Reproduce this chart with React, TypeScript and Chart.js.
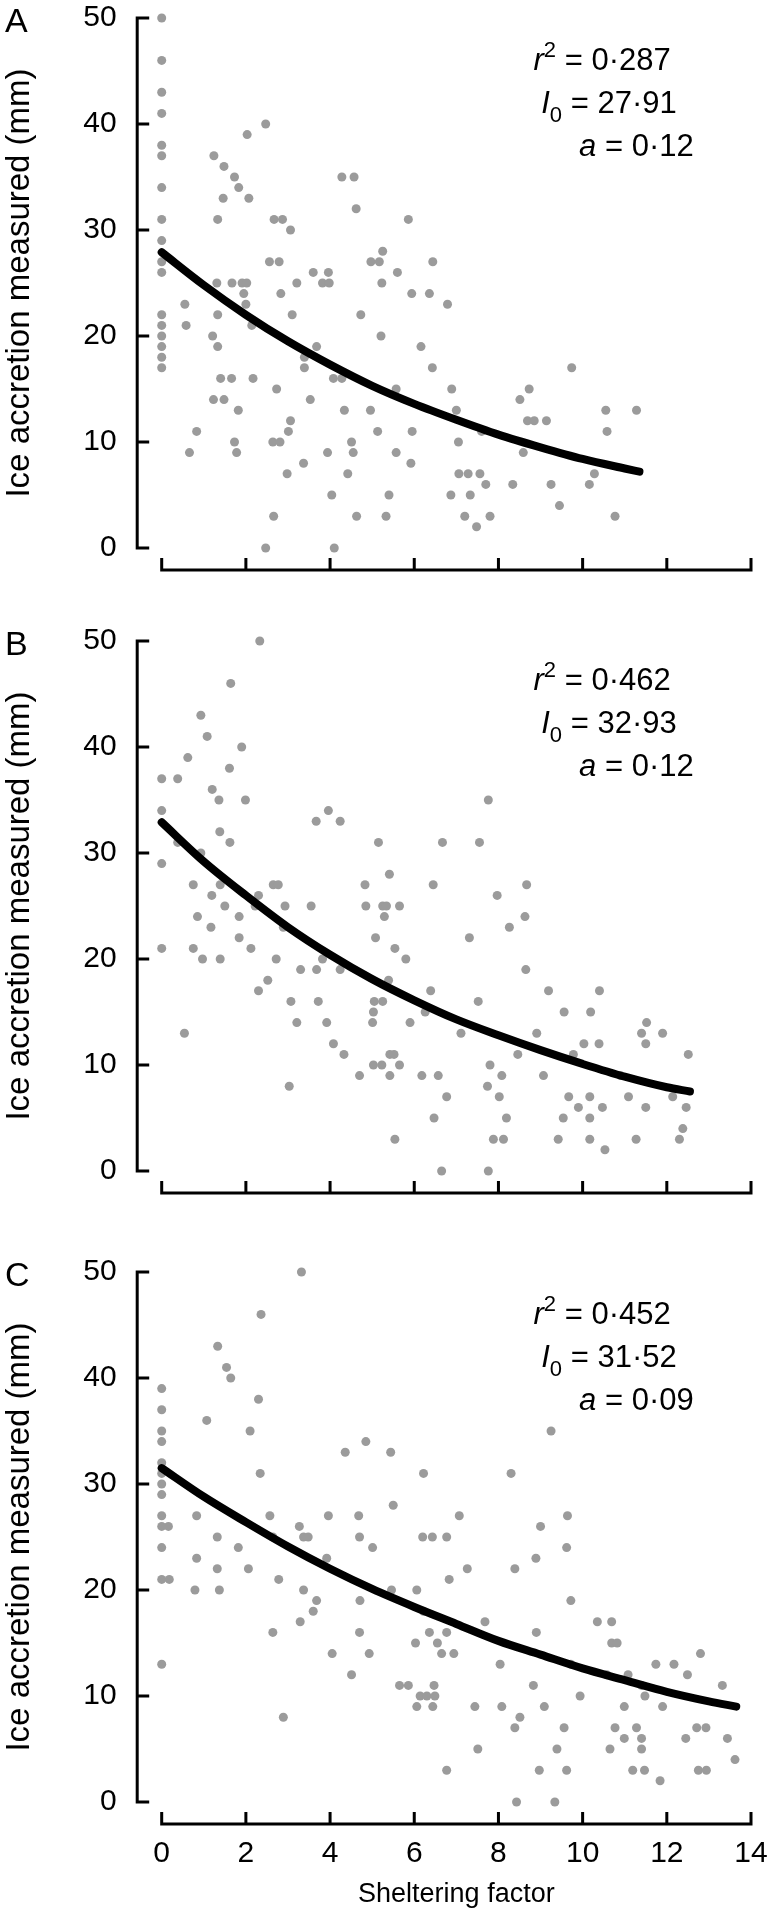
import React, { useEffect, useRef } from 'react';
import { Chart, registerables } from 'chart.js';

Chart.register(...registerables);

const FONT = "'Liberation Sans', Arial, Helvetica, sans-serif";

const xTicks = [0, 2, 4, 6, 8, 10, 12, 14];
const yTicks = [0, 10, 20, 30, 40, 50];
const xTitle = 'Sheltering factor';
const yTitle = 'Ice accretion measured (mm)';

// Panel A observations
const aX = [0, 0, 0, 0, 0, 0, 0, 0, 0, 0, 0, 0, 0, 0, 0, 0, 0,
  0.55, 0.58, 0.66, 0.83,
  1.24, 1.48, 1.73, 1.83, 1.46, 2.07, 1.33, 2.03, 2.47,
  1.31, 1.67, 1.91, 2.02, 1.95, 2.0, 1.33, 2.14, 1.21, 1.33,
  1.4, 1.66, 2.17, 1.23, 1.48, 1.82, 1.73, 1.78,
  2.67, 2.87, 3.06, 2.56, 2.79, 3.21, 2.83, 3.1, 2.73, 3.06, 3.01, 2.64, 2.81, 2.98, 2.66, 2.47,
  3.37, 3.6, 3.82, 3.98, 3.96, 3.68, 3.39, 3.39, 3.53, 3.94, 4.04, 4.1,
  4.08, 4.28, 4.34, 4.28, 4.57, 4.62, 4.73, 4.51, 4.55, 4.42, 4.63,
  4.97, 5.17, 5.25, 5.23, 5.21, 4.96, 5.13, 5.4, 5.33, 5.6, 5.57, 5.57,
  5.86, 6.44, 5.94, 6.36, 6.79, 6.16, 6.43, 6.89, 7.0, 5.95, 7.05, 7.6, 5.92,
  7.06, 7.28, 7.56, 7.7, 6.87, 7.33, 7.2, 7.8, 7.48, 8.34, 8.51, 8.73, 8.69, 8.85, 9.14,
  8.59, 9.25, 9.45, 9.74, 10.16, 10.28, 10.55, 10.58, 10.77, 11.28];
const aY = [50, 46, 43, 41, 38, 37, 34, 31, 29, 27, 26, 22, 21, 20, 19, 18, 17,
  23, 21, 9, 11,
  37, 36, 35, 34, 33, 33, 31, 39, 40,
  25, 25, 25, 25, 24, 23, 22, 21, 20, 19,
  16, 16, 16, 14, 14, 13, 10, 9,
  31, 31, 30, 27, 27, 25, 24, 22, 15, 12, 11, 10, 10, 7, 3, 0,
  8, 26, 25, 25, 26, 19, 18, 17, 14, 9, 5, 0,
  16, 16, 13, 35, 35, 32, 22, 10, 9, 7, 3,
  27, 27, 28, 25, 20, 13, 11, 5, 3, 26, 9, 15,
  31, 27, 24, 24, 23, 19, 17, 15, 13, 11, 10, 11, 8,
  7, 7, 7, 6, 5, 5, 3, 3, 2, 6, 14, 15, 12, 12, 12,
  9, 6, 4, 17, 6, 7, 13, 11, 3, 13];

// Panel B observations
const bX = [0, 0, 0, 0,
  0.38, 0.38, 0.54, 0.62, 0.93, 1.08, 1.2, 1.36, 1.38, 1.62, 1.64, 1.61, 1.9, 1.99, 2.33,
  0.93, 0.75, 1.19, 1.39, 1.5, 0.85, 1.17, 0.75, 0.97, 1.39, 1.84, 1.84, 2.12, 2.3, 2.22,
  2.65, 2.77, 2.93, 2.89, 2.72, 2.3, 2.52, 3.07, 3.21, 3.03, 3.3, 3.55, 3.67, 3.96, 4.24,
  3.68, 3.82, 3.72, 3.92, 4.08, 4.33, 4.24, 4.7, 4.83, 4.85, 5.15, 5.25, 5.34, 5.29, 5.08,
  5.41, 5.54, 5.05, 5.25, 5.03, 5.01, 5.03, 5.23, 5.42, 5.52, 5.42, 5.54, 5.65, 5.65, 5.39,
  6.67, 7.55, 7.76, 6.45, 8.67, 7.97, 8.26, 8.63, 7.31, 5.8, 8.65, 6.39, 9.19, 10.4, 7.52,
  6.26, 9.56, 10.19, 5.9, 11.52, 7.11, 8.91, 11.4, 11.9, 8.46, 9.78, 10.03, 10.39, 11.5,
  12.51, 7.8, 6.18, 6.57, 8.08, 9.07, 10.9, 7.74, 6.77, 8.02, 9.67, 10.17, 11.09, 12.14,
  9.9, 10.47, 11.5, 12.46, 6.47, 8.19, 9.54, 10.17, 12.38, 7.88, 8.12, 9.42, 10.17, 11.27,
  12.3, 10.53, 6.65, 7.76];
const bY = [37, 34, 29, 21,
  37, 31, 13, 39, 43, 41, 36, 35, 32, 31, 46, 38, 40, 35, 50,
  30, 27, 26, 27, 25, 24, 23, 21, 20, 20, 24, 22, 21, 26, 25,
  27, 27, 25, 23, 20, 17, 18, 16, 14, 8, 19, 25, 33, 34, 33,
  19, 20, 16, 14, 12, 11, 19, 9, 27, 25, 31, 25, 25, 24, 22,
  28, 21, 16, 16, 15, 14, 10, 10, 11, 11, 9, 3, 25, 10, 18,
  31, 31, 35, 27, 27, 26, 23, 24, 22, 20, 19, 17, 17, 17, 16,
  15, 15, 15, 14, 14, 13, 13, 13, 13, 11, 11, 12, 12, 12,
  11, 10, 9, 9, 9, 9, 9, 8, 7, 7, 7, 7, 7, 7,
  6, 6, 6, 6, 5, 5, 5, 5, 4, 3, 3, 3, 3, 3,
  3, 2, 0, 0];

// Panel C observations
const cX = [0, 0, 0, 0, 0, 0, 0, 0, 0, 0, 0, 0, 0,
  0.16, 0.18, 0.83, 0.83, 0.79, 1.07, 1.33, 1.54, 1.64, 1.32, 1.32, 1.37, 1.82, 2.06, 2.1,
  2.36, 2.3, 2.34, 2.57, 2.64, 2.78, 2.64, 2.89, 3.32, 3.27, 3.37, 3.48, 3.37, 3.68, 3.6,
  3.29, 3.96, 3.92, 4.05, 4.36, 4.85, 4.68, 4.7, 5.01, 4.71, 4.7, 4.93, 4.51, 5.44, 5.5,
  5.46, 5.65,
  6.22, 8.3, 9.25, 7.07, 9.64, 9.0, 6.2, 6.43, 6.77, 9.62, 8.89, 7.26, 8.39, 6.83, 6.06,
  9.72, 6.22, 7.68, 10.35, 10.69, 6.36, 6.77, 8.9, 6.03, 6.55, 10.69, 10.82, 6.65, 6.94,
  12.8, 8.04, 9.72, 11.74, 12.17, 10.57, 11.08, 12.49, 5.86, 6.47, 8.83, 11.4, 13.32,
  6.14, 6.3, 6.49, 9.94, 11.48, 6.06, 6.44, 7.44, 8.08, 9.09, 10.99, 11.9, 8.51, 8.39,
  9.56, 10.77, 11.28, 12.71, 12.93, 10.99, 11.4, 12.45, 13.44, 7.51, 9.39, 10.65, 11.4,
  13.62, 6.77, 8.97, 9.62, 11.19, 11.47, 12.75, 12.94, 11.84, 8.43, 9.34];
const cY = [39, 37, 35, 34, 32, 31, 30, 29, 27, 26, 24, 21, 13,
  26, 21, 27, 23, 20, 36, 43, 41, 40, 25, 22, 20, 24, 22, 35,
  46, 38, 31, 27, 25, 21, 16, 8, 50, 26, 25, 25, 20, 19, 18,
  17, 27, 23, 14, 33, 34, 27, 25, 24, 19, 16, 14, 12, 33, 28,
  20, 11,
  31, 31, 35, 27, 27, 26, 25, 25, 25, 24, 23, 22, 22, 21, 20,
  19, 18, 17, 17, 17, 16, 16, 16, 15, 15, 15, 15, 14, 14,
  14, 13, 13, 13, 13, 12, 12, 12, 11, 11, 11, 11, 11,
  10, 10, 10, 10, 10, 9, 9, 9, 9, 9, 9, 9, 8, 7,
  7, 7, 7, 7, 7, 6, 6, 6, 6, 5, 5, 5, 5,
  4, 3, 3, 3, 3, 3, 3, 3, 2, 0, 0];

// Fitted curves
const aCurveX = [0, 1, 2, 3, 4, 5, 6, 7, 8, 9, 10, 11, 11.35];
const aCurveY = [27.9, 24.8, 22.0, 19.5, 17.3, 15.3, 13.6, 12.1, 10.7, 9.5, 8.4, 7.5, 7.2];
const bCurveX = [0, 1, 2, 3, 4, 5, 6, 7, 8, 9, 10, 11, 12, 12.55];
const bCurveY = [32.9, 29.2, 26.0, 23.0, 20.4, 18.1, 16.1, 14.3, 12.8, 11.4, 10.1, 8.9, 7.9, 7.5];
const cCurveX = [0, 1, 2, 3, 4, 5, 6, 7, 8, 9, 10, 11, 12, 13, 13.65];
const cCurveY = [31.5, 28.8, 26.4, 24.1, 22.0, 20.1, 18.4, 16.8, 15.2, 13.9, 12.6, 11.5, 10.4, 9.5, 9.0];

const panelLetters = ['A', 'B', 'C'];
const r2Values = ['0·287', '0·462', '0·452'];
const i0Values = ['27·91', '32·93', '31·52'];
const aValues = ['0·12', '0·12', '0·09'];

type Panel = {
  letter: string; xs: number[]; ys: number[]; cx: number[]; cy: number[];
  r2: string; i0: string; a: string; last: boolean; top: number; height: number; noteShift: number;
};

const panels: Panel[] = [
  { letter: panelLetters[0], xs: aX, ys: aY, cx: aCurveX, cy: aCurveY, r2: r2Values[0], i0: i0Values[0], a: aValues[0], last: false, top: 0, height: 627, noteShift: 0 },
  { letter: panelLetters[1], xs: bX, ys: bY, cx: bCurveX, cy: bCurveY, r2: r2Values[1], i0: i0Values[1], a: aValues[1], last: false, top: 623, height: 631, noteShift: -3 },
  { letter: panelLetters[2], xs: cX, ys: cY, cx: cCurveX, cy: cCurveY, r2: r2Values[2], i0: i0Values[2], a: aValues[2], last: true, top: 1254, height: 666, noteShift: 0 },
];

type Part = { t: string; italic?: boolean; sup?: boolean; sub?: boolean };

function drawRich(ctx: CanvasRenderingContext2D, right: number, baseline: number, parts: Part[], size: number) {
  const fontFor = (p: Part) => {
    const s = p.sup || p.sub ? Math.round(size * 0.72) : size;
    return `${p.italic ? 'italic ' : ''}${s}px ${FONT}`;
  };
  let total = 0;
  parts.forEach((p) => { ctx.font = fontFor(p); total += ctx.measureText(p.t).width; });
  let x = right - total;
  ctx.textAlign = 'left';
  ctx.textBaseline = 'alphabetic';
  parts.forEach((p) => {
    ctx.font = fontFor(p);
    let y = baseline;
    if (p.sup) y -= size * 0.42;
    if (p.sub) y += size * 0.3;
    ctx.fillText(p.t, x, y);
    x += ctx.measureText(p.t).width;
  });
}

function makeDecor(p: Panel) {
  return {
    id: 'decor' + p.letter,
    afterDraw(chart: any) {
      const { ctx, scales: { x, y }, chartArea } = chart;
      const yAxisX = x.getPixelForValue(0) - 24.5;
      const xAxisY = y.getPixelForValue(0) + 22;
      ctx.save();
      ctx.strokeStyle = '#000';
      ctx.lineWidth = 3;
      ctx.lineCap = 'butt';
      ctx.beginPath();
      ctx.moveTo(yAxisX, y.getPixelForValue(50) - 1.5);
      ctx.lineTo(yAxisX, y.getPixelForValue(0) + 1.5);
      yTicks.forEach((v) => {
        const py = y.getPixelForValue(v);
        ctx.moveTo(yAxisX, py);
        ctx.lineTo(yAxisX + 12, py);
      });
      ctx.moveTo(x.getPixelForValue(0) - 1.5, xAxisY);
      ctx.lineTo(x.getPixelForValue(14) + 1.5, xAxisY);
      xTicks.forEach((v) => {
        const px = x.getPixelForValue(v);
        ctx.moveTo(px, xAxisY);
        ctx.lineTo(px, xAxisY - 12);
      });
      ctx.stroke();

      ctx.fillStyle = '#000';
      ctx.font = `34px ${FONT}`;
      ctx.textAlign = 'left';
      ctx.textBaseline = 'middle';
      ctx.fillText(p.letter, 5, chartArea.top + 5);

      const size = 31;
      const left = chartArea.left;
      const t = chartArea.top + p.noteShift;
      drawRich(ctx, left + 509, t + 52, [{ t: 'r', italic: true }, { t: '2', sup: true }, { t: ' = ' + p.r2 }], size);
      drawRich(ctx, left + 515, t + 95, [{ t: 'I', italic: true }, { t: '0', sub: true }, { t: ' = ' + p.i0 }], size);
      drawRich(ctx, left + 532, t + 138, [{ t: 'a', italic: true }, { t: ' = ' + p.a }], size);
      ctx.restore();
    },
  };
}

function PanelChart({ p }: { p: Panel }) {
  const ref = useRef<HTMLCanvasElement | null>(null);
  useEffect(() => {
    if (!ref.current) return;
    const xScaleHeight = p.height - 16.7 - 531.3;
    const chart = new Chart(ref.current, {
      type: 'scatter',
      data: {
        datasets: [
          {
            type: 'line',
            data: p.cx.map((x, i) => ({ x, y: p.cy[i] })),
            borderColor: '#000',
            borderWidth: 8,
            pointRadius: 0,
            cubicInterpolationMode: 'monotone',
            borderCapStyle: 'round',
            fill: false,
            clip: false,
            order: 0,
          } as any,
          {
            type: 'scatter',
            data: p.xs.map((x, i) => ({ x, y: p.ys[i] })),
            backgroundColor: '#9b9b9b',
            borderWidth: 0,
            pointRadius: 4.5,
            clip: false,
            order: 1,
          } as any,
        ],
      },
      options: {
        animation: false,
        responsive: false,
        maintainAspectRatio: false,
        events: [],
        layout: { padding: { top: 16.7, left: 0, right: 19, bottom: 0 }, autoPadding: false },
        plugins: { legend: { display: false }, tooltip: { enabled: false } },
        scales: {
          x: {
            type: 'linear',
            min: 0,
            max: 14,
            grid: { display: false, drawTicks: true, tickLength: 34 },
            border: { display: false },
            afterBuildTicks: (s: any) => { s.ticks = xTicks.map((v) => ({ value: v })); },
            afterFit: (s: any) => { s.height = xScaleHeight; },
            ticks: {
              display: p.last,
              color: '#000',
              font: { family: FONT, size: 30 },
              padding: 0,
              maxRotation: 0,
              autoSkip: false,
            },
            title: {
              display: p.last,
              text: xTitle,
              color: '#000',
              font: { family: FONT, size: 27 },
              padding: { top: 0, bottom: 9 },
            },
          },
          y: {
            type: 'linear',
            min: 0,
            max: 50,
            grid: { display: false, drawTicks: true, tickLength: 45 },
            border: { display: false },
            afterBuildTicks: (s: any) => { s.ticks = yTicks.map((v) => ({ value: v })); },
            afterFit: (s: any) => { s.width = 161.7; },
            ticks: {
              color: '#000',
              font: { family: FONT, size: 30 },
              padding: 0,
            },
            title: {
              display: true,
              text: yTitle,
              color: '#000',
              font: { family: FONT, size: 33 },
              padding: { top: 0, bottom: 0 },
            },
          },
        },
      } as any,
      plugins: [makeDecor(p)],
    });
    return () => chart.destroy();
  }, [p]);
  return (
    <canvas
      ref={ref}
      width={770}
      height={p.height}
      style={{ position: 'absolute', left: 0, top: p.top, width: 770, height: p.height, display: 'block' }}
    />
  );
}

export default function App() {
  return (
    <div style={{ position: 'absolute', left: 0, top: 0, width: 770, height: 1920, background: '#fff' }}>
      {panels.map((p) => (
        <PanelChart key={p.letter} p={p} />
      ))}
    </div>
  );
}
